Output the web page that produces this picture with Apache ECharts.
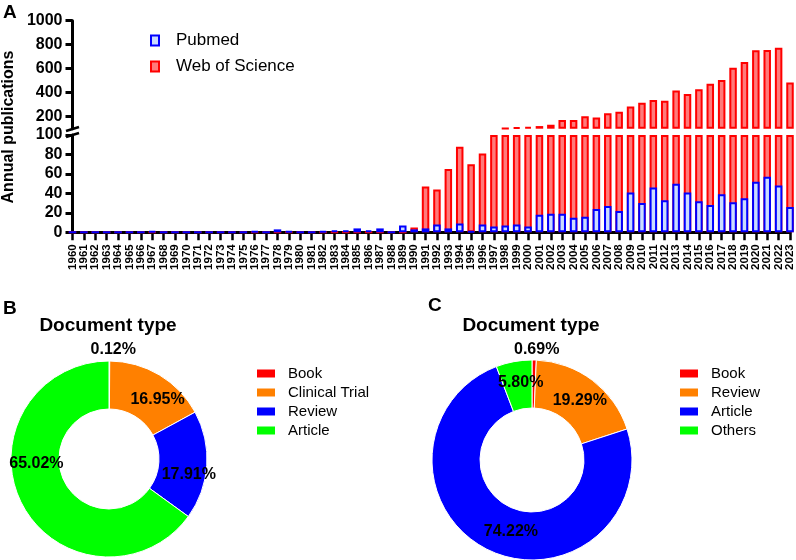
<!DOCTYPE html>
<html>
<head>
<meta charset="utf-8">
<script src="https://cdn.jsdelivr.net/npm/echarts@6/dist/echarts.min.js"></script>
<style>
html, body { margin: 0; padding: 0; background: #fff; }
#main { width: 796px; height: 560px; }
</style>
</head>
<body>
<div id="main"></div>
<script>
// panel A data
var years = ['1960','1961','1962','1963','1964','1965','1966','1967','1968','1969',
    '1970','1971','1972','1973','1974','1975','1976','1977','1978','1979',
    '1980','1981','1982','1983','1984','1985','1986','1987','1988','1989',
    '1990','1991','1992','1993','1994','1995','1996','1997','1998','1999',
    '2000','2001','2002','2003','2004','2005','2006','2007','2008','2009',
    '2010','2011','2012','2013','2014','2015','2016','2017','2018','2019',
    '2020','2021','2022','2023'];
var pubmed = [0,0,0,0,0,0,0,1,0,0,
    0,0,0,0,0,0,1,0,3,1,
    0,0,1,2,2,4,2,4,0,7,
    3,4,8,4,9,1,8,6,7,8,
    6,18,19,19,15,16,24,27,22,41,
    30,46,33,50,41,32,28,39,31,35,
    52,57,48,26];
var wos = [0,0,0,0,0,0,0,0,0,0,
    0,0,0,0,0,0,0,0,0,0,
    0,0,0,0,0,0,0,0,0,0,
    5,47,44,65,88,70,81,100,103,111,
    114,122,133,172,172,203,194,228,242,286,
    317,339,333,419,389,428,475,506,608,656,
    753,756,775,486];
var lowerTicksMax = 100;
var upperTicks = [200, 400, 600, 800, 1000];

// panels B and C
var typeNamesB = ['Book', 'Clinical Trial', 'Review', 'Article'];
var typeValuesB = [0.12, 16.95, 17.91, 65.02];
var typeNamesC = ['Book', 'Review', 'Article', 'Others'];
var typeValuesC = [0.69, 19.29, 74.22, 5.80];

var sliceColors = ['#ff0000', '#ff8000', '#0000ff', '#00ff00'];
var FONT = '"Liberation Sans", Arial, sans-serif';

// split the WoS series for the broken axis
var wosLower = wos.map(function (v) { return Math.min(v, lowerTicksMax); });
var wosUpperBase = wos.map(function (v) { return v > lowerTicksMax ? lowerTicksMax : '-'; });
var wosUpper = wos.map(function (v) { return v > lowerTicksMax ? v - lowerTicksMax : '-'; });

var redStyle = {color: '#ff7a7a', borderColor: '#ff0000', borderWidth: 2};
var blueStyle = {color: '#cbdcff', borderColor: '#0000ff', borderWidth: 2};

function pieData(names, values, offsets) {
    return names.map(function (n, i) {
        return {
            name: n,
            value: values[i],
            itemStyle: {color: sliceColors[i]},
            label: {offset: offsets[i]}
        };
    });
}
function legendData(names) {
    return names.map(function (n, i) {
        return {name: n, itemStyle: {color: sliceColors[i], borderWidth: 0}};
    });
}

var axisBlack = {lineStyle: {color: '#000', width: 3}};
var plainNumber = function (v) { return String(v); };

var myChart = echarts.init(document.getElementById('main'), null, {renderer: 'canvas'});
var option = {
    animation: false,
    textStyle: {fontFamily: FONT},
    title: [
        {text: 'A', left: 3, top: 3, padding: 0, textStyle: {fontSize: 19, fontWeight: 'bold', color: '#000', fontFamily: FONT}},
        {text: 'B', left: 3, top: 299, padding: 0, textStyle: {fontSize: 19, fontWeight: 'bold', color: '#000', fontFamily: FONT}},
        {text: 'C', left: 428, top: 296, padding: 0, textStyle: {fontSize: 19, fontWeight: 'bold', color: '#000', fontFamily: FONT}},
        {text: 'Document type', left: 108, top: 316, padding: 0, textAlign: 'center',
            textStyle: {fontSize: 19, fontWeight: 'bold', color: '#000', fontFamily: FONT}},
        {text: 'Document type', left: 531, top: 316, padding: 0, textAlign: 'center',
            textStyle: {fontSize: 19, fontWeight: 'bold', color: '#000', fontFamily: FONT}}
    ],
    legend: [
        {
            data: ['Pubmed', 'Web of Science'],
            orient: 'vertical', left: 145, top: 27,
            icon: 'rect', itemWidth: 8, itemHeight: 10, itemGap: 9,
            textStyle: {fontSize: 17, color: '#000', fontFamily: FONT, padding: [0, 0, 0, 12]}
        },
        {
            data: legendData(typeNamesB),
            orient: 'vertical', left: 252, top: 361,
            icon: 'rect', itemWidth: 18, itemHeight: 8, itemGap: 4,
            textStyle: {fontSize: 15, lineHeight: 15, color: '#000', fontFamily: FONT, padding: [0, 0, 0, 8]}
        },
        {
            data: legendData(typeNamesC),
            orient: 'vertical', left: 675, top: 361,
            icon: 'rect', itemWidth: 18, itemHeight: 8, itemGap: 4,
            textStyle: {fontSize: 15, lineHeight: 15, color: '#000', fontFamily: FONT, padding: [0, 0, 0, 8]}
        }
    ],
    grid: [
        {left: 72.5, right: 6, top: 135, height: 97.3},
        {left: 72.5, right: 6, top: 20.7, height: 108}
    ],
    xAxis: [
        {
            type: 'category', gridIndex: 0, data: years, boundaryGap: false,
            axisLine: axisBlack,
            axisTick: {show: true, interval: 0, length: 8, lineStyle: {color: '#000', width: 2.5}},
            axisLabel: {interval: 0, rotate: 90, margin: 12, fontSize: 11.5, fontWeight: 'bold', color: '#000', fontFamily: FONT},
            splitLine: {show: false}
        },
        {
            type: 'category', gridIndex: 1, data: years, boundaryGap: false, show: false
        }
    ],
    yAxis: [
        {
            type: 'value', gridIndex: 0, min: 0, max: 100, interval: 20,
            axisLine: {show: true, lineStyle: {color: '#000', width: 3}},
            axisTick: {show: true, length: 7, lineStyle: {color: '#000', width: 3}},
            axisLabel: {margin: 10, fontSize: 16, fontWeight: 'bold', color: '#000', fontFamily: FONT, formatter: plainNumber},
            splitLine: {show: false}
        },
        {
            type: 'value', gridIndex: 1, min: 100, max: 1000,
            axisLine: {show: true, lineStyle: {color: '#000', width: 3}},
            axisTick: {show: true, length: 7, customValues: upperTicks, lineStyle: {color: '#000', width: 3}},
            axisLabel: {margin: 10, customValues: upperTicks, fontSize: 16, fontWeight: 'bold', color: '#000', fontFamily: FONT, formatter: plainNumber},
            splitLine: {show: false}
        }
    ],
    graphic: [
        {
            type: 'text', x: 9, y: 127, rotation: Math.PI / 2,
            style: {text: 'Annual publications', font: 'bold 16px ' + FONT, fill: '#000', align: 'center', verticalAlign: 'middle'}
        },
        {type: 'line', shape: {x1: 66, y1: 131, x2: 79, y2: 127}, style: {stroke: '#000', lineWidth: 2.5}},
        {type: 'line', shape: {x1: 66, y1: 137, x2: 79, y2: 133}, style: {stroke: '#000', lineWidth: 2.5}}
    ],
    series: [
        {
            name: 'Web of Science', type: 'bar', xAxisIndex: 0, yAxisIndex: 0,
            data: wosLower, barWidth: 7.5, clip: false, itemStyle: redStyle
        },
        {
            name: 'Pubmed', type: 'bar', xAxisIndex: 0, yAxisIndex: 0,
            data: pubmed, barWidth: 7.5, barGap: '-100%', clip: false, itemStyle: blueStyle
        },
        {
            type: 'bar', xAxisIndex: 1, yAxisIndex: 1, stack: 'up', silent: true,
            data: wosUpperBase, barWidth: 7.5, clip: false,
            itemStyle: {color: 'rgba(0,0,0,0)'}
        },
        {
            name: 'Web of Science', type: 'bar', xAxisIndex: 1, yAxisIndex: 1, stack: 'up',
            data: wosUpper, barWidth: 7.5, clip: false, itemStyle: redStyle
        },
        {
            type: 'pie', center: [109, 459], radius: [50, 98],
            startAngle: 90, clockwise: true, avoidLabelOverlap: false,
            itemStyle: {borderColor: '#fff', borderWidth: 1},
            label: {
                position: 'inside', fontSize: 16, fontWeight: 'bold', color: '#000', fontFamily: FONT,
                formatter: function (p) { return p.value.toFixed(2) + '%'; }
            },
            labelLine: {show: false},
            data: pieData(typeNamesB, typeValuesB, [[4, -32], [9, 7], [3, 11], [-4, -30]])
        },
        {
            type: 'pie', center: [532, 460], radius: [52, 100],
            startAngle: 90, clockwise: true, avoidLabelOverlap: false,
            itemStyle: {borderColor: '#fff', borderWidth: 1},
            label: {
                position: 'inside', fontSize: 16, fontWeight: 'bold', color: '#000', fontFamily: FONT,
                formatter: function (p) { return p.value.toFixed(2) + '%'; }
            },
            labelLine: {show: false},
            data: pieData(typeNamesC, typeValuesC, [[3, -31], [0, 4], [13, 0], [3, 0]])
        }
    ]
};
myChart.setOption(option);
</script>
</body>
</html>
